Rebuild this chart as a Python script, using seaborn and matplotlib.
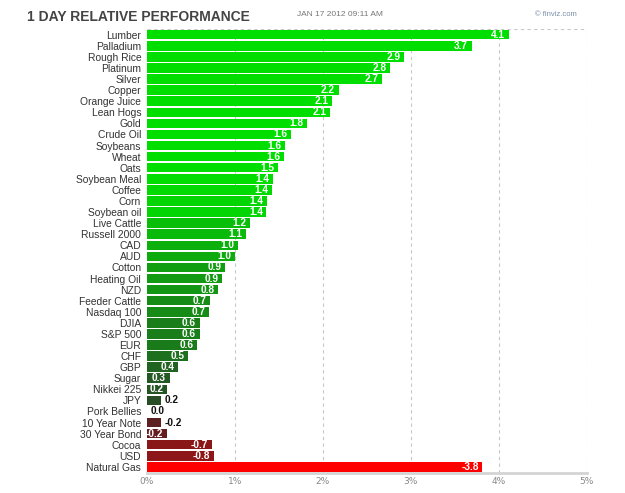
import numpy as np
import pandas as pd
import matplotlib
matplotlib.use("Agg")
import matplotlib.pyplot as plt
import matplotlib.colors as mcolors
import seaborn as sns

# data (percent change, 1 day)
names = ["Lumber", "Palladium", "Rough Rice", "Platinum", "Silver", "Copper",
         "Orange Juice", "Lean Hogs", "Gold", "Crude Oil", "Soybeans", "Wheat",
         "Oats", "Soybean Meal", "Coffee", "Corn", "Soybean oil", "Live Cattle",
         "Russell 2000", "CAD", "AUD", "Cotton", "Heating Oil", "NZD",
         "Feeder Cattle", "Nasdaq 100", "DJIA", "S&P 500", "EUR", "CHF", "GBP",
         "Sugar", "Nikkei 225", "JPY", "Pork Bellies", "10 Year Note",
         "30 Year Bond", "Cocoa", "USD", "Natural Gas"]
perf = [4.11, 3.69, 2.92, 2.76, 2.67, 2.18,
        2.11, 2.08, 1.82, 1.64, 1.57, 1.56,
        1.49, 1.43, 1.42, 1.37, 1.36, 1.17,
        1.13, 1.04, 1.00, 0.89, 0.86, 0.81,
        0.72, 0.71, 0.60, 0.60, 0.57, 0.47, 0.36,
        0.26, 0.23, 0.16, 0.0, -0.16,
        -0.23, -0.74, -0.76, -3.81]
xticks = [0, 1, 2, 3, 4, 5]

df = pd.DataFrame({"name": names, "perf": perf})
df["size"] = df["perf"].abs()


def bar_color(v):
    t = min(abs(v) / 1.45, 1.0)
    if v >= 0:
        lo, hi = np.array([0.17, 0.23, 0.17]), np.array([0.0, 0.87, 0.0])
    else:
        t = min(abs(v) / 3.8, 1.0) ** 0.55
        lo, hi = np.array([0.23, 0.15, 0.16]), np.array([1.0, 0.0, 0.0])
    return mcolors.to_hex(lo + (hi - lo) * t)


palette = {n: bar_color(v) for n, v in zip(names, perf)}

fig = plt.figure(figsize=(6.25, 4.93), dpi=100)
ax = fig.add_axes([0.2347, 0.0406, 0.7043, 0.9002])
sns.set_style("white")
plt.rcParams["font.family"] = ["Liberation Sans", "DejaVu Sans"]

sns.barplot(data=df, x="size", y="name", hue="name", palette=palette,
            legend=False, orient="h", width=0.86, ax=ax, zorder=3,
            edgecolor="none", saturation=1)

ax.set_xlim(0, 5)
ax.set_ylim(len(names) - 0.45, -0.5)
ax.set_xlabel("")
ax.set_ylabel("")

# grid
for x in xticks[1:]:
    ax.axvline(x, color="#c8c8c8", lw=0.8, ls=(0, (3, 3)), zorder=1)
ax.axhline(-0.5, color="#c8c8c8", lw=0.8, ls=(0, (3, 3)), zorder=1)
for s in ["top", "right", "left"]:
    ax.spines[s].set_visible(False)
ax.spines["bottom"].set_color("#d4d4d4")
ax.spines["bottom"].set_linewidth(2)

ax.set_xticks(xticks)
ax.set_xticklabels([f"{t}%" for t in xticks], fontsize=6.5, color="#888888")
ax.tick_params(axis="x", length=0, pad=3)
ax.tick_params(axis="y", length=0, pad=4, labelsize=7.4, labelcolor="#333333")
for lab in ax.get_yticklabels():
    lab.set_family(["Liberation Sans", "DejaVu Sans"])

# value labels
for i, (v, s) in enumerate(zip(perf, df["size"])):
    txt = f"{v:.1f}"
    if s >= 0.2:
        ax.text(s - 0.04, i, txt, ha="right", va="center", fontsize=7.3,
                fontweight="bold", color="white", zorder=4)
    else:
        ax.text(s + 0.04, i, txt, ha="left", va="center", fontsize=7.3,
                fontweight="bold", color="#111111", zorder=4)

fig.text(27 / 625, 1 - 17 / 493, "1 DAY RELATIVE PERFORMANCE", fontsize=10,
         fontweight="bold", color="#444444", va="center", ha="left")
fig.text(297 / 625, 1 - 15 / 493, "JAN 17 2012 09:11 AM", fontsize=6,
         color="#777777", va="center", ha="left")
fig.text(577 / 625, 1 - 15 / 493, "\u00a9 finviz.com", fontsize=5.5,
         color="#7a8fa8", va="center", ha="right")

fig.savefig("out.png", dpi=100, facecolor="white")
